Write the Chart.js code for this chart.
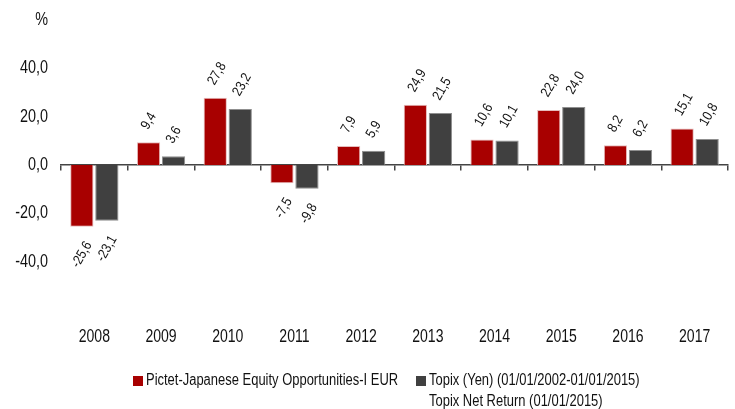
<!DOCTYPE html>
<html>
<head>
<meta charset="utf-8">
<script src="https://cdn.jsdelivr.net/npm/chart.js@4"></script>
<style>
  html, body { margin: 0; padding: 0; background: #fff; }
  #wrap { width: 735px; height: 409px; }
</style>
</head>
<body>
<div id="wrap"><canvas id="perfChart"></canvas></div>
<script>
const years = ["2008", "2009", "2010", "2011", "2012", "2013", "2014", "2015", "2016", "2017"];
const fundValues = [-25.6, 9.4, 27.8, -7.5, 7.9, 24.9, 10.6, 22.8, 8.2, 15.1];
const indexValues = [-23.1, 3.6, 23.2, -9.8, 5.9, 21.5, 10.1, 24.0, 6.2, 10.8];
const fundLabel = "Pictet-Japanese Equity Opportunities-I EUR";
const indexLabel = ["Topix (Yen) (01/01/2002-01/01/2015)", "Topix Net Return (01/01/2015)"];
const yTicks = [-60, -40, -20, 0, 20, 40, 60];

// no condensed font installed, so text is squeezed horizontally by hand
const FONT = "'Liberation Sans', Arial, sans-serif";
const RED = "#a80000";
const GREY = "#404040";
const TEXT = "#111";

// comma decimal like the source
function fmt(v) { return v.toFixed(1).replace(".", ","); }

function squeezed(ctx, text, x, y, align, sx, angle) {
    ctx.save();
    ctx.translate(x, y);
    if (angle) ctx.rotate(angle);
    ctx.scale(sx, 1);
    ctx.textAlign = align;
    ctx.fillText(text, 0, 0);
    ctx.restore();
}

// axis tick labels, value labels and legend
const textLayer = {
    id: "textLayer",
    afterDraw(chart) {
        const ctx = chart.ctx;
        const area = chart.chartArea;
        const xs = chart.scales.x;
        const ys = chart.scales.y;
        ctx.save();
        ctx.fillStyle = TEXT;
        ctx.textBaseline = "middle";

        // y tick labels
        ctx.font = "18px " + FONT;
        yTicks.forEach(v => {
            let t = v === 60 ? "%" : (v === -60 ? "" : fmt(v));
            if (t) squeezed(ctx, t, area.left - 13, ys.getPixelForValue(v), "right", 0.8);
        });

        // category labels
        years.forEach((yr, i) => {
            squeezed(ctx, yr, xs.getPixelForTick(i), area.bottom + 27, "center", 0.78);
        });

        // rotated value labels
        ctx.font = "14px " + FONT;
        chart.data.datasets.forEach((ds, i) => {
            chart.getDatasetMeta(i).data.forEach((bar, j) => {
                const v = ds.data[j];
                if (v >= 0) {
                    squeezed(ctx, fmt(v), bar.x - 4, bar.y - 14, "left", 0.86, -Math.PI / 3);
                } else {
                    squeezed(ctx, fmt(v), bar.x + 7, bar.y + 16, "right", 0.86, -Math.PI / 3);
                }
            });
        });

        // legend
        ctx.font = "16px " + FONT;
        ctx.fillStyle = RED;
        ctx.fillRect(133, 376, 10, 10);
        ctx.fillStyle = GREY;
        ctx.fillRect(416, 376, 10, 10);
        ctx.fillStyle = TEXT;
        squeezed(ctx, fundLabel, 146, 381, "left", 0.81);
        indexLabel.forEach((line, k) => squeezed(ctx, line, 429, 381 + k * 21, "left", 0.81));
        ctx.restore();
    }
};

new Chart(document.getElementById("perfChart"), {
    type: "bar",
    data: {
        labels: years,
        datasets: [
            { label: fundLabel, data: fundValues, backgroundColor: RED, borderColor: "#e6bcbc", borderWidth: 1 },
            { label: indexLabel.join(" "), data: indexValues, backgroundColor: GREY, borderColor: "#8f8f8f", borderWidth: 1 }
        ]
    },
    options: {
        responsive: true,
        maintainAspectRatio: false,
        animation: false,
        categoryPercentage: 0.75,
        barPercentage: 0.93,
        layout: { padding: { top: 20, right: 7, bottom: 59, left: 0 } },
        plugins: { legend: { display: false }, tooltip: { enabled: false } },
        scales: {
            x: {
                afterFit(scale) { scale.height = 40; },
                grid: { display: false },
                border: { display: false },
                ticks: { color: "rgba(0,0,0,0)", font: { size: 2 }, maxRotation: 0 }
            },
            x2: {
                position: { y: 0 },
                grid: { drawOnChartArea: false, drawTicks: true, tickLength: 5, color: "#444", lineWidth: 1.5, offset: true },
                border: { display: true, color: "#444", width: 1.5 },
                ticks: { display: false }
            },
            y: {
                min: -60,
                max: 60,
                afterBuildTicks(scale) { scale.ticks = yTicks.map(v => ({ value: v })); },
                afterFit(scale) { scale.width = 61; },
                grid: { display: false },
                border: { display: false },
                ticks: { color: "rgba(0,0,0,0)", font: { size: 2 } }
            }
        }
    },
    plugins: [textLayer]
});
</script>
</body>
</html>
